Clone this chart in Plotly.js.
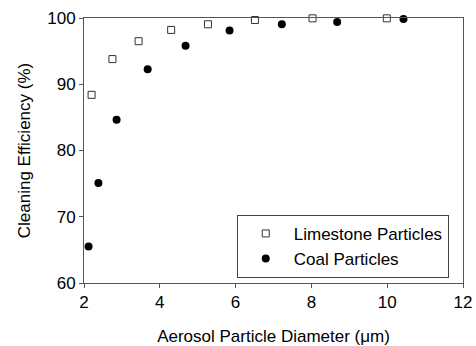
<!DOCTYPE html>
<html>
<head>
<meta charset="utf-8">
<script src="https://cdn.plot.ly/plotly-3.0.1.min.js"></script>
<style>
  html, body { margin: 0; padding: 0; background: #fff; }
  #chart { width: 476px; height: 346px; }
</style>
</head>
<body>
<div id="chart"></div>
<script>
// Cleaning efficiency vs aerosol particle diameter
const limestoneDiameter = [2.2, 2.75, 3.44, 4.3, 5.27, 6.51, 8.03, 9.99];
const limestoneEfficiency = [88.4, 93.8, 96.5, 98.2, 99.05, 99.7, 99.95, 99.95];

const coalDiameter = [2.12, 2.38, 2.86, 3.68, 4.68, 5.84, 7.22, 8.68, 10.43];
const coalEfficiency = [65.5, 75.1, 84.65, 92.25, 95.8, 98.1, 99.05, 99.4, 99.85];

const xTicks = [2, 4, 6, 8, 10, 12];
const yTicks = [60, 70, 80, 90, 100];

const FONT = 'Liberation Sans, Arial, sans-serif';
const AXIS = '#555';

const traces = [
  {
    x: limestoneDiameter, y: limestoneEfficiency,
    name: 'Limestone Particles',
    type: 'scatter', mode: 'markers',
    marker: { symbol: 'square-open', size: 7, color: '#333', line: { width: 1, color: '#333' } },
    cliponaxis: false
  },
  {
    x: coalDiameter, y: coalEfficiency,
    name: 'Coal Particles',
    type: 'scatter', mode: 'markers',
    marker: { symbol: 'circle', size: 8, color: '#000' },
    cliponaxis: false
  }
];

const layout = {
  width: 476, height: 346,
  margin: { l: 84, r: 13, t: 18, b: 63 },
  paper_bgcolor: '#fff', plot_bgcolor: '#fff',
  font: { family: FONT, size: 17, color: '#000' },
  showlegend: true,
  legend: {
    x: 0.403, y: 0.257, xanchor: 'left', yanchor: 'top',
    bordercolor: '#444', borderwidth: 1, bgcolor: '#fff',
    font: { family: FONT, size: 17, color: '#000' },
    itemwidth: 46,
    tracegroupgap: 0
  },
  xaxis: {
    range: [2, 12], tickvals: xTicks, ticktext: xTicks.map(String),
    showgrid: false, zeroline: false,
    showline: true, linecolor: AXIS, linewidth: 1, mirror: true,
    ticks: 'outside', ticklen: 4, tickcolor: AXIS,
    tickfont: { family: FONT, size: 17 },
    title: { text: 'Aerosol Particle Diameter (\u03bcm)', font: { family: FONT, size: 17 }, standoff: 18 }
  },
  yaxis: {
    range: [60, 100], tickvals: yTicks, ticktext: yTicks.map(String),
    showgrid: false, zeroline: false,
    showline: true, linecolor: AXIS, linewidth: 1, mirror: true,
    ticks: 'outside', ticklen: 4, tickcolor: AXIS,
    tickfont: { family: FONT, size: 17 },
    title: { text: 'Cleaning Efficiency (%)', font: { family: FONT, size: 17 }, standoff: 12 }
  }
};

Plotly.newPlot('chart', traces, layout, { displayModeBar: false, staticPlot: true });
</script>
</body>
</html>
